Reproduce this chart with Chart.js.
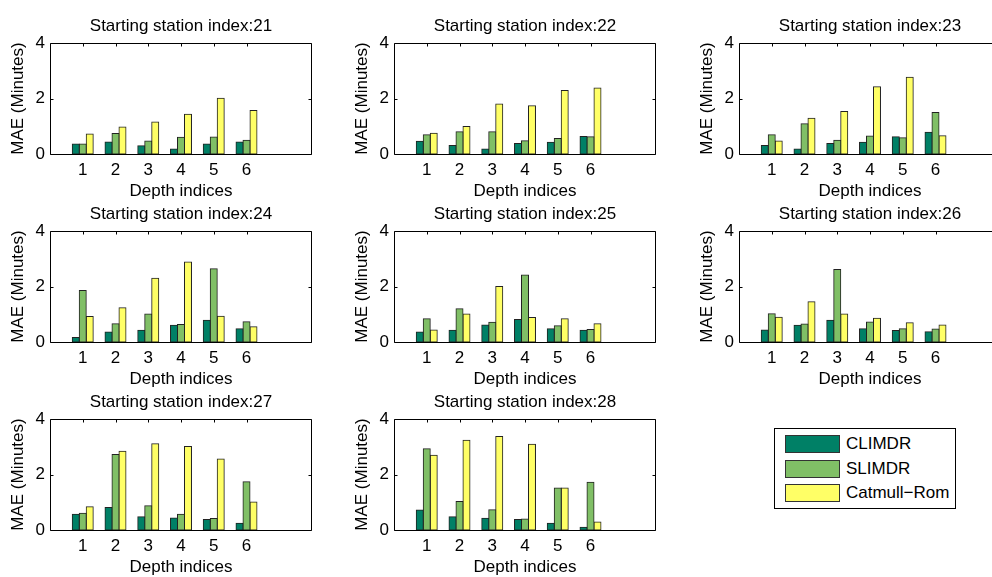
<!DOCTYPE html>
<html>
<head>
<meta charset="utf-8">
<script src="https://cdn.jsdelivr.net/npm/chart.js@4.4.0/dist/chart.umd.min.js"></script>
<style>
  html, body { margin: 0; padding: 0; background: #fff; }
  #fig { position: relative; width: 992px; height: 577px; overflow: hidden; background: #fff;
         font-family: 'Liberation Sans', Arial, Helvetica, sans-serif; }
  .panel { position: absolute; width: 362px; height: 204px; }
  .legend { position: absolute; left: 774px; top: 428px; width: 180px; height: 79px;
            border: 1px solid #000; background: #fff; }
  .legend .item { position: absolute; left: 10px; height: 18px; white-space: nowrap; }
  .legend .swatch { position: absolute; left: 0; top: 0; width: 53px; height: 16px; border: 1px solid #333; }
  .legend .name { position: absolute; left: 61px; top: 0; line-height: 18px; font-size: 17px; color: #000; }
</style>
</head>
<body>
<div id="fig"></div>
<script>
// Depth indices on the x axis
const depthIndices = [1, 2, 3, 4, 5, 6];
const yTicks = [0, 2, 4];

// Series names and colours (summer colormap)
const seriesNames = ['CLIMDR', 'SLIMDR', 'Catmull\u2212Rom'];
const seriesColors = ['rgb(0,128,102)', 'rgb(128,191,102)', 'rgb(255,255,102)'];

// MAE (minutes) per starting station
const climdr21 = [0.36, 0.43, 0.30, 0.18, 0.36, 0.43];
const slimdr21 = [0.36, 0.74, 0.47, 0.60, 0.61, 0.50];
const catmullRom21 = [0.72, 0.97, 1.15, 1.43, 2.01, 1.57];

const climdr22 = [0.46, 0.31, 0.18, 0.38, 0.42, 0.63];
const slimdr22 = [0.69, 0.80, 0.80, 0.48, 0.56, 0.62];
const catmullRom22 = [0.75, 0.99, 1.80, 1.74, 2.29, 2.38];

const climdr23 = [0.31, 0.18, 0.38, 0.42, 0.62, 0.78];
const slimdr23 = [0.69, 1.09, 0.50, 0.65, 0.59, 1.50];
const catmullRom23 = [0.47, 1.29, 1.53, 2.42, 2.77, 0.66];

const climdr24 = [0.16, 0.36, 0.42, 0.60, 0.78, 0.48];
const slimdr24 = [1.86, 0.66, 1.01, 0.63, 2.64, 0.73];
const catmullRom24 = [0.92, 1.23, 2.30, 2.88, 0.93, 0.55];

const climdr25 = [0.36, 0.42, 0.61, 0.81, 0.48, 0.42];
const slimdr25 = [0.84, 1.20, 0.71, 2.41, 0.59, 0.45];
const catmullRom25 = [0.43, 1.01, 2.00, 0.88, 0.84, 0.66];

const climdr26 = [0.43, 0.60, 0.78, 0.48, 0.41, 0.37];
const slimdr26 = [1.02, 0.65, 2.61, 0.72, 0.48, 0.47];
const catmullRom26 = [0.89, 1.45, 1.01, 0.86, 0.69, 0.61];

const climdr27 = [0.57, 0.81, 0.48, 0.43, 0.38, 0.24];
const slimdr27 = [0.60, 2.72, 0.87, 0.57, 0.41, 1.74];
const catmullRom27 = [0.84, 2.84, 3.11, 3.01, 2.56, 1.01];

const climdr28 = [0.72, 0.48, 0.42, 0.38, 0.24, 0.10];
const slimdr28 = [2.93, 1.03, 0.73, 0.40, 1.51, 1.72];
const catmullRom28 = [2.69, 3.23, 3.37, 3.09, 1.51, 0.29];

const panels = [
  { station: 21, series: [climdr21, slimdr21, catmullRom21] },
  { station: 22, series: [climdr22, slimdr22, catmullRom22] },
  { station: 23, series: [climdr23, slimdr23, catmullRom23] },
  { station: 24, series: [climdr24, slimdr24, catmullRom24] },
  { station: 25, series: [climdr25, slimdr25, catmullRom25] },
  { station: 26, series: [climdr26, slimdr26, catmullRom26] },
  { station: 27, series: [climdr27, slimdr27, catmullRom27] },
  { station: 28, series: [climdr28, slimdr28, catmullRom28] }
];

// Grid placement of the canvases (3 columns x 3 rows)
const colLeft = [0, 344, 689];
const rowTop = [0, 188, 376];

const FONT_FAMILY = "'Liberation Sans', Arial, Helvetica, sans-serif";
const font = { family: FONT_FAMILY, size: 17, weight: 'normal' };
Chart.defaults.font.family = FONT_FAMILY;
Chart.defaults.color = '#000';

// Boxed axes with short inward tick marks on all four sides (drawn beneath the bars)
const axesFrame = {
  id: 'axesFrame',
  beforeDatasetsDraw(chart) {
    const { ctx, chartArea: a, scales: { x, y } } = chart;
    const len = 3;
    const L = Math.round(a.left) + 0.5, R = Math.round(a.right) - 0.5;
    const T = Math.round(a.top) + 0.5, B = Math.round(a.bottom) + 0.5;
    ctx.save();
    ctx.strokeStyle = '#000';
    ctx.lineWidth = 1;
    ctx.beginPath();
    x.ticks.forEach(t => {
      const px = Math.round(x.getPixelForValue(t.value)) + 0.5;
      ctx.moveTo(px, B); ctx.lineTo(px, B - len);
      ctx.moveTo(px, T); ctx.lineTo(px, T + len);
    });
    y.ticks.forEach(t => {
      const py = Math.round(y.getPixelForValue(t.value)) + 0.5;
      ctx.moveTo(L, py); ctx.lineTo(L + len, py);
      ctx.moveTo(R, py); ctx.lineTo(R - len, py);
    });
    ctx.moveTo(L, T); ctx.lineTo(R, T); ctx.lineTo(R, B); ctx.lineTo(L, B); ctx.closePath();
    ctx.stroke();
    ctx.restore();
  }
};

const fig = document.getElementById('fig');

panels.forEach((p, i) => {
  const holder = document.createElement('div');
  holder.className = 'panel';
  holder.style.left = colLeft[i % 3] + 'px';
  holder.style.top = rowTop[Math.floor(i / 3)] + 'px';
  const canvas = document.createElement('canvas');
  canvas.width = 362;
  canvas.height = 204;
  holder.appendChild(canvas);
  fig.appendChild(holder);

  new Chart(canvas, {
    type: 'bar',
    data: {
      datasets: p.series.map((vals, k) => ({
        label: seriesNames[k],
        data: vals.map((v, j) => ({ x: depthIndices[j], y: v })),
        backgroundColor: seriesColors[k],
        borderColor: '#222',
        borderWidth: 1,
        borderSkipped: false,
        inflateAmount: 0.5
      }))
    },
    options: {
      responsive: false,
      animation: false,
      devicePixelRatio: 1,
      layout: { padding: 0 },
      datasets: { bar: { categoryPercentage: 0.64, barPercentage: 1 } },
      plugins: {
        legend: { display: false },
        tooltip: { enabled: false },
        title: {
          display: true,
          text: 'Starting station index:' + p.station,
          color: '#000',
          font: font,
          padding: { top: 16, bottom: 6.6 }
        }
      },
      scales: {
        x: {
          type: 'linear',
          min: 0,
          max: 8,
          offset: false,
          afterBuildTicks: s => { s.ticks = depthIndices.map(v => ({ value: v })); },
          afterFit: s => { s.height = 50; },
          grid: { display: false, drawTicks: false },
          border: { display: false },
          ticks: { color: '#000', font: font, padding: 6, autoSkip: false, maxRotation: 0 },
          title: { display: true, text: 'Depth indices', color: '#000', font: font,
                   padding: { top: 0, bottom: 2 } }
        },
        y: {
          min: 0,
          max: 4,
          afterBuildTicks: s => { s.ticks = yTicks.map(v => ({ value: v })); },
          afterFit: s => { s.width = 50; },
          grid: { display: false, drawTicks: false },
          border: { display: false },
          ticks: { color: '#000', font: font, padding: 5 },
          title: { display: true, text: 'MAE (Minutes)', color: '#000', font: font,
                   padding: { top: 8, bottom: 0 } }
        },
        // empty right-hand margin so the plot box sits centred under its title
        yMargin: {
          position: 'right',
          display: true,
          min: 0,
          max: 4,
          afterFit: s => { s.width = 50; },
          grid: { display: false, drawTicks: false },
          border: { display: false },
          ticks: { display: false }
        }
      }
    },
    plugins: [axesFrame]
  });
});

// Legend box
const legend = document.createElement('div');
legend.className = 'legend';
const itemTops = [6, 31, 55];
seriesNames.forEach((name, k) => {
  const item = document.createElement('div');
  item.className = 'item';
  item.style.top = itemTops[k] + 'px';
  const sw = document.createElement('div');
  sw.className = 'swatch';
  sw.style.background = seriesColors[k];
  const label = document.createElement('span');
  label.className = 'name';
  label.textContent = name;
  item.appendChild(sw);
  item.appendChild(label);
  legend.appendChild(item);
});
fig.appendChild(legend);
</script>
</body>
</html>
